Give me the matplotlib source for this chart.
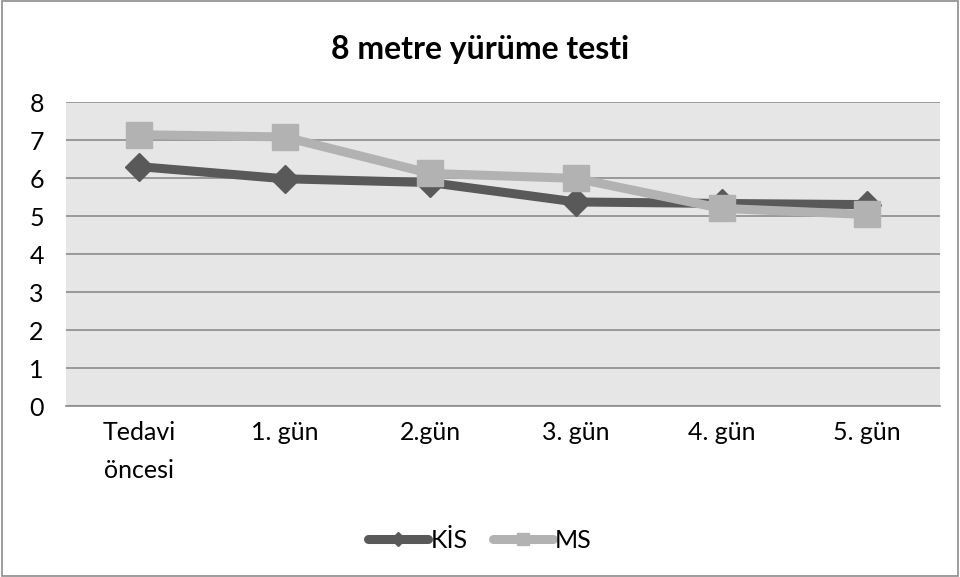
import matplotlib.pyplot as plt
from matplotlib.patches import Rectangle
from matplotlib.lines import Line2D

categories = ["Tedavi\nöncesi", "1. gün", "2.gün", "3. gün", "4. gün", "5. gün"]
kis_values = [6.3, 5.98, 5.88, 5.37, 5.33, 5.3]
ms_values = [7.14, 7.08, 6.12, 5.99, 5.2, 5.04]
y_ticks = [0, 1, 2, 3, 4, 5, 6, 7, 8]

plt.rcParams["font.family"] = ["Lato", "DejaVu Sans"]

fig = plt.figure(figsize=(9.6, 5.77), dpi=100)
ax = fig.add_axes([66 / 960, 1 - 406 / 577, 874 / 960, 304 / 577])

# chart frame
fig.patches.append(Rectangle((0.002, 0.002), 0.996, 0.996, transform=fig.transFigure,
                             fill=False, edgecolor="#8c8c8c", linewidth=1.2))

ax.set_facecolor("#e6e6e6")
x = list(range(len(categories)))
ax.plot(x, kis_values, color="#595959", linewidth=6.5, marker="D", markersize=14,
        zorder=3)
ax.plot(x, ms_values, color="#b2b2b2", linewidth=6.5, marker="s", markersize=19,
        zorder=4)

ax.set_xlim(-0.5, len(categories) - 0.5)
ax.set_ylim(0, 8)
ax.set_yticks(y_ticks)
ax.set_xticks(x)
ax.set_xticklabels(categories, fontsize=18, linespacing=1.75)
ax.tick_params(axis="y", labelsize=18, length=0, pad=16)
ax.tick_params(axis="x", length=0, pad=11)
ax.yaxis.grid(True, color="#8c8c8c", linewidth=1.2)
ax.set_axisbelow(True)
for side in ["top", "right", "left"]:
    ax.spines[side].set_visible(False)
ax.spines["bottom"].set_color("#8c8c8c")
ax.spines["bottom"].set_linewidth(1.2)

fig.text(0.5, 1 - 50 / 577, "8 metre yürüme testi", ha="center", va="center",
         fontsize=23, fontweight="bold")

handles = [
    Line2D([], [], color="#595959", linewidth=6.5, marker="D", markersize=7,
           solid_capstyle="round"),
    Line2D([], [], color="#b2b2b2", linewidth=6.5, marker="s", markersize=9,
           solid_capstyle="round"),
]
fig.legend(handles, ["KİS", "MS"], loc="center", bbox_to_anchor=(0.5, 1 - 540 / 577),
           ncol=2, frameon=False, fontsize=18, handlelength=2.4, handletextpad=0.1,
           columnspacing=1.0)

fig.savefig("out.png", dpi=100)
